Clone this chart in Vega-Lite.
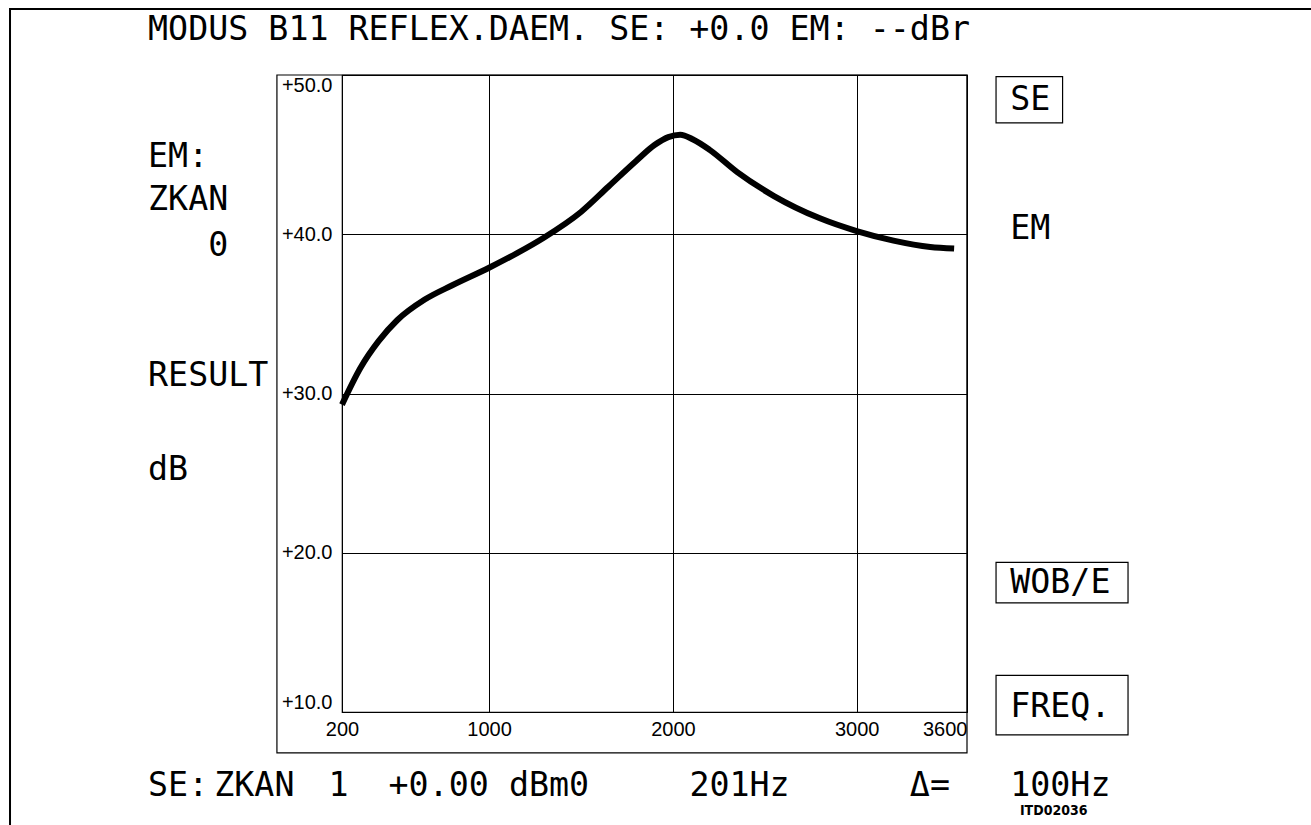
{
  "$schema": "https://vega.github.io/schema/vega-lite/v6.json",
  "width": 625,
  "height": 637,
  "autosize": {"type": "none"},
  "padding": {"left": 342, "top": 75, "right": 344, "bottom": 113},
  "background": "white",
  "config": {
    "view": {"stroke": "black", "strokeWidth": 1.2},
    "font": "DejaVu Sans Mono"
  },
  "datasets": {
    "curve": [
      {"freq": 200, "db": 29.3}, {"freq": 300, "db": 31.6}, {"freq": 400, "db": 33.3},
      {"freq": 500, "db": 34.6}, {"freq": 650, "db": 35.9}, {"freq": 800, "db": 36.8},
      {"freq": 1000, "db": 37.9}, {"freq": 1150, "db": 38.8}, {"freq": 1300, "db": 39.8},
      {"freq": 1500, "db": 41.4}, {"freq": 1650, "db": 43.0}, {"freq": 1800, "db": 44.6},
      {"freq": 1900, "db": 45.6}, {"freq": 1975, "db": 46.1}, {"freq": 2040, "db": 46.25},
      {"freq": 2110, "db": 45.95}, {"freq": 2200, "db": 45.3}, {"freq": 2350, "db": 43.9},
      {"freq": 2550, "db": 42.4}, {"freq": 2800, "db": 41.0}, {"freq": 3000, "db": 40.2},
      {"freq": 3200, "db": 39.6}, {"freq": 3400, "db": 39.2}, {"freq": 3530, "db": 39.1}
    ],
    "boxes": [
      {"freq": -154, "freq2": 3600, "db": 50, "db2": 7.43},
      {"freq": 3758, "freq2": 4120, "db": 49.9, "db2": 47.0},
      {"freq": 3758, "freq2": 4476, "db": 19.4, "db2": 16.85},
      {"freq": 3758, "freq2": 4476, "db": 12.3, "db2": 8.56}
    ],
    "page": [
      {"freq": -1606, "freq2": 6000, "db": 54.14, "db2": -5}
    ],
    "texts": [
      {"freq": -855, "db": 52.83, "label": "MODUS B11 REFLEX.DAEM. SE: +0.0 EM: --dBr"},
      {"freq": -855, "db": 44.85, "label": "EM:"},
      {"freq": -855, "db": 42.15, "label": "ZKAN"},
      {"freq": -528, "db": 39.26, "label": "0"},
      {"freq": -855, "db": 31.1, "label": "RESULT"},
      {"freq": -855, "db": 25.2, "label": "dB"},
      {"freq": 3835, "db": 48.45, "label": "SE"},
      {"freq": 3835, "db": 40.3, "label": "EM"},
      {"freq": 3835, "db": 18.1, "label": "WOB/E"},
      {"freq": 3835, "db": 10.31, "label": "FREQ."},
      {"freq": -855, "db": 5.35, "label": "SE:"},
      {"freq": -495, "db": 5.35, "label": "ZKAN"},
      {"freq": 126, "db": 5.35, "label": "1"},
      {"freq": 453, "db": 5.35, "label": "+0.00"},
      {"freq": 1108, "db": 5.35, "label": "dBm0"},
      {"freq": 2090, "db": 5.35, "label": "201Hz"},
      {"freq": 3289, "db": 5.35, "label": "Δ="},
      {"freq": 3835, "db": 5.35, "label": "100Hz"}
    ],
    "code": [
      {"freq": 3888, "db": 3.78, "label": "ITD02036"}
    ]
  },
  "layer": [
    {
      "data": {"name": "curve"},
      "mark": {"type": "line", "color": "black", "strokeWidth": 6, "interpolate": "monotone", "strokeCap": "butt"},
      "encoding": {
        "x": {
          "field": "freq", "type": "quantitative",
          "scale": {"domain": [200, 3600], "nice": false, "zero": false},
          "axis": {
            "title": null, "values": [200, 1000, 2000, 3000, 3600], "format": "d",
            "grid": true, "gridColor": "black", "gridOpacity": 1, "gridWidth": 1,
            "domain": false, "ticks": false, "labelPadding": 7,
            "labelFont": "Liberation Sans", "labelFontSize": 20, "labelColor": "black",
            "labelFlush": false,
            "labelAlign": {"condition": {"test": "datum.value >= 3600", "value": "right"}, "value": "center"}
          }
        },
        "y": {
          "field": "db", "type": "quantitative",
          "scale": {"domain": [10, 50], "nice": false, "zero": false},
          "axis": {
            "title": null, "values": [10, 20, 30, 40, 50], "format": "+.1f",
            "grid": true, "gridColor": "black", "gridOpacity": 1, "gridWidth": 1,
            "domain": false, "ticks": false, "labelPadding": 10, "labelFlush": true,
            "labelFont": "Liberation Sans", "labelFontSize": 20, "labelColor": "black"
          }
        }
      }
    },
    {
      "data": {"name": "page"},
      "mark": {"type": "rect", "fill": null, "fillOpacity": 0, "stroke": "black", "strokeWidth": 2},
      "encoding": {
        "x": {"field": "freq", "type": "quantitative"},
        "x2": {"field": "freq2"},
        "y": {"field": "db", "type": "quantitative"},
        "y2": {"field": "db2"}
      }
    },
    {
      "data": {"name": "boxes"},
      "mark": {"type": "rect", "fill": null, "fillOpacity": 0, "stroke": "black", "strokeWidth": 1.2},
      "encoding": {
        "x": {"field": "freq", "type": "quantitative"},
        "x2": {"field": "freq2"},
        "y": {"field": "db", "type": "quantitative"},
        "y2": {"field": "db2"}
      }
    },
    {
      "data": {"name": "texts"},
      "mark": {"type": "text", "align": "left", "baseline": "middle", "font": "DejaVu Sans Mono", "fontSize": 33.3, "color": "black"},
      "encoding": {
        "x": {"field": "freq", "type": "quantitative"},
        "y": {"field": "db", "type": "quantitative"},
        "text": {"field": "label"}
      }
    },
    {
      "data": {"name": "code"},
      "mark": {"type": "text", "align": "left", "baseline": "middle", "font": "DejaVu Sans Condensed", "fontSize": 14, "fontWeight": "bold", "color": "black"},
      "encoding": {
        "x": {"field": "freq", "type": "quantitative"},
        "y": {"field": "db", "type": "quantitative"},
        "text": {"field": "label"}
      }
    }
  ]
}
